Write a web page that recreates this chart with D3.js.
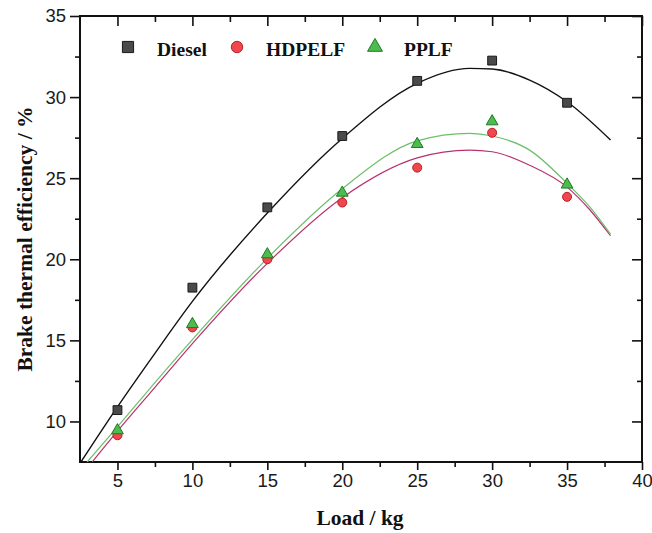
<!DOCTYPE html>
<html>
<head>
<meta charset="utf-8">
<script src="https://cdn.jsdelivr.net/npm/d3@7"></script>
<style>
  body { margin: 0; background: #fff; }
  .tick text { font-family: "Liberation Sans", Arial, sans-serif; font-size: 18.5px; fill: #1a1a1a; }
  .axis path, .axis line { stroke: #111; }
  .title { font-family: "Liberation Serif", "Times New Roman", serif; font-weight: bold; font-size: 21.5px; fill: #111; }
  .legend-text { font-family: "Liberation Serif", "Times New Roman", serif; font-weight: bold; font-size: 19.5px; fill: #111; }
</style>
</head>
<body>
<svg id="chart" width="652" height="533"></svg>
<script>
// measured points
const loads = [5, 10, 15, 20, 25, 30, 35];
const diesel = [10.7, 18.25, 23.2, 27.6, 31.0, 32.25, 29.65];
const hdpelf = [9.15, 15.8, 20.0, 23.5, 25.65, 27.8, 23.85];
const pplf = [9.45, 16.0, 20.3, 24.1, 27.1, 28.5, 24.6];

// fitted curves as [load, value]
const dieselFit = [[2.56, 7.5], [5, 10.9], [7.5, 14.2], [10, 17.4], [15, 22.85], [20, 27.45],
  [25, 30.85], [28.5, 31.77], [30, 31.73], [32.5, 31.05], [35, 29.71], [37.9, 27.35]];
const hdpelfFit = [[3.31, 7.5], [5, 9.4], [7.5, 12.1], [10, 14.8], [15, 19.75], [20, 23.8],
  [25, 26.25], [28.5, 26.73], [30, 26.63], [32.5, 25.8], [35, 24.45], [36.5, 23.07], [37.9, 21.45]];
const pplfFit = [[2.98, 7.5], [5, 9.67], [7.5, 12.4], [10, 15.05], [15, 20.06], [20, 24.35],
  [25, 27.3], [28.5, 27.76], [30, 27.6], [32.5, 26.73], [35, 24.68], [36.5, 23.24], [37.9, 21.55]];

const xMajor = [5, 10, 15, 20, 25, 30, 35, 40];
const xMinor = [7.5, 12.5, 17.5, 22.5, 27.5, 32.5, 37.5];
const yMajor = [10, 15, 20, 25, 30, 35];
const yMinor = [12.5, 17.5, 22.5, 27.5, 32.5];

const margin = {top: 16, right: 10, bottom: 71, left: 80};
const width = 652 - margin.left - margin.right;
const height = 533 - margin.top - margin.bottom;

const svg = d3.select("#chart");
const g = svg.append("g").attr("transform", "translate(" + margin.left + "," + margin.top + ")");

const x = d3.scaleLinear().domain([2.5, 40]).range([0, width]);
const y = d3.scaleLinear().domain([7.5, 35]).range([height, 0]);

g.append("clipPath").attr("id", "clip")
  .append("rect").attr("width", width).attr("height", height);

// axes: majors + minors, outer on left/bottom, inner on top/right
function drawAxis(axisFn, scale, ticks, size, labels, transform) {
  const a = g.append("g").attr("class", "axis").attr("transform", transform || null)
    .call(axisFn(scale).tickValues(ticks).tickSize(size).tickPadding(4)
      .tickFormat(labels ? d3.format("d") : ""));
  a.select(".domain").remove();
  a.selectAll(".tick line").attr("stroke-width", 1.6);
  return a;
}
drawAxis(d3.axisBottom, x, xMajor, 8, true, "translate(0," + height + ")");
drawAxis(d3.axisBottom, x, xMinor, 5, false, "translate(0," + height + ")");
drawAxis(d3.axisLeft, y, yMajor, 10, true);
drawAxis(d3.axisLeft, y, yMinor, 5, false);
drawAxis(d3.axisTop, x, xMajor, -10, false);
drawAxis(d3.axisTop, x, xMinor, -6, false);
drawAxis(d3.axisRight, y, yMajor, -10, false, "translate(" + width + ",0)");
drawAxis(d3.axisRight, y, yMinor, -5, false, "translate(" + width + ",0)");

g.append("rect").attr("width", width).attr("height", height)
  .attr("fill", "none").attr("stroke", "#111").attr("stroke-width", 2);

const line = d3.line()
  .x(function(d) { return x(d[0]); })
  .y(function(d) { return y(d[1]); })
  .curve(d3.curveMonotoneX);

const curves = g.append("g").attr("clip-path", "url(#clip)");
curves.append("path").datum(dieselFit).attr("d", line)
  .attr("fill", "none").attr("stroke", "#111").attr("stroke-width", 1.4);
curves.append("path").datum(hdpelfFit).attr("d", line)
  .attr("fill", "none").attr("stroke", "#b8326e").attr("stroke-width", 1.2);
curves.append("path").datum(pplfFit).attr("d", line)
  .attr("fill", "none").attr("stroke", "#6cbf6a").attr("stroke-width", 1.2);

const symSquare = d3.symbol().type(d3.symbolSquare);
const symCircle = d3.symbol().type(d3.symbolCircle);
const symTriangle = d3.symbol().type(d3.symbolTriangle);

const series = [
  {name: "Diesel", values: diesel, sym: symSquare, size: 78, fill: "#4a4a4a", stroke: "#1a1a1a"},
  {name: "HDPELF", values: hdpelf, sym: symCircle, size: 64, fill: "#f0474f", stroke: "#b8202a"},
  {name: "PPLF", values: pplf, sym: symTriangle, size: 60, fill: "#4cbc4c", stroke: "#1f7a2a"}
];

series.forEach(function(s) {
  g.append("g").selectAll("path")
    .data(loads.map(function(l, i) { return [l, s.values[i]]; }))
    .enter().append("path")
    .attr("d", s.sym.size(s.size)())
    .attr("transform", function(d) { return "translate(" + x(d[0]) + "," + y(d[1]) + ")"; })
    .attr("fill", s.fill).attr("stroke", s.stroke).attr("stroke-width", 1);
});

// legend
const legendX = [48, 157, 295];
const legend = g.append("g");
series.forEach(function(s, i) {
  const lg = legend.append("g").attr("transform", "translate(" + legendX[i] + ",31)");
  lg.append("path").attr("d", s.sym.size(s.size * 1.6)())
    .attr("fill", s.fill).attr("stroke", s.stroke).attr("stroke-width", 1);
  lg.append("text").attr("class", "legend-text").attr("x", 29).attr("y", 8.5).text(s.name);
});

// axis titles
svg.append("text").attr("class", "title")
  .attr("x", margin.left + width / 2 - 1).attr("y", 525)
  .attr("text-anchor", "middle").text("Load / kg");
svg.append("text").attr("class", "title")
  .attr("transform", "translate(32," + (margin.top + height / 2) + ") rotate(-90)")
  .attr("text-anchor", "middle").text("Brake thermal efficiency / %");
</script>
</body>
</html>
